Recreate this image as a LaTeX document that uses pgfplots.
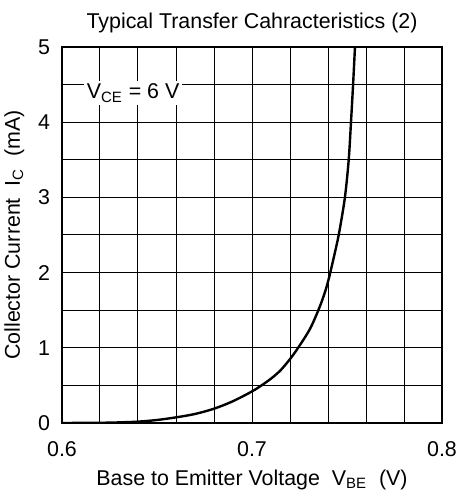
\documentclass[border=0pt]{standalone}
\usepackage{fontspec}
\setmainfont{Liberation Sans}
\usepackage{pgfplots}
\pgfplotsset{compat=1.18}
\newcommand{\chartfont}{\fontsize{10.7}{12.8}\selectfont}
\begin{document}
\begin{tikzpicture}
\useasboundingbox (-31pt,-34pt) rectangle (198.5pt,211.5pt);
\begin{axis}[
    scale only axis,
    width=190pt, height=188pt,
    xmin=0.6, xmax=0.8, ymin=0, ymax=5,
    xtick={0.6,0.7,0.8},
    minor xtick={0.62,0.64,0.66,0.68,0.72,0.74,0.76,0.78},
    ytick={0,1,2,3,4,5},
    minor ytick={0.5,1.5,2.5,3.5,4.5},
    grid=both,
    grid style={black, line width=0.5pt},
    minor grid style={black, line width=0.5pt},
    axis line style={black, line width=0.6pt},
    tick style={draw=none},
    /pgf/number format/assume math mode=true,
    /pgf/number format/fixed,
    /pgf/number format/precision=1,
    xticklabel style={yshift=-5.5pt},
    yticklabel style={xshift=-2.5pt},
    ticklabel style={font=\chartfont},
    label style={font=\chartfont},
    title style={font=\chartfont, yshift=-2.5pt},
    title={Typical Transfer Cahracteristics (2)},
    xlabel={Base to Emitter Voltage\ \ V\textsubscript{BE}\ \ (V)},
    ylabel={Collector Current\ \ I\textsubscript{C}\ \ (mA)},
]
\addplot[black, line width=1.2pt, smooth] coordinates {
(0.600,0.000) (0.620,0.003) (0.630,0.008) (0.640,0.018) (0.650,0.040)
(0.660,0.075) (0.670,0.120) (0.680,0.190) (0.690,0.290) (0.700,0.420)
(0.705,0.500) (0.710,0.590) (0.715,0.700) (0.720,0.850) (0.724,0.990)
(0.7305,1.250) (0.7354,1.530) (0.7384,1.740) (0.7400,1.880)
(0.7411,1.990) (0.7442,2.330) (0.7460,2.550) (0.7489,3.000) (0.7509,3.500)
(0.7521,4.000) (0.7532,4.500) (0.7542,5.000)
};
\node[fill=white, inner sep=1.5pt, anchor=north, yshift=2pt, font=\chartfont]
  at (axis cs:0.6374,4.5) {V\textsubscript{CE} = 6 V};
\end{axis}
\end{tikzpicture}
\end{document}
